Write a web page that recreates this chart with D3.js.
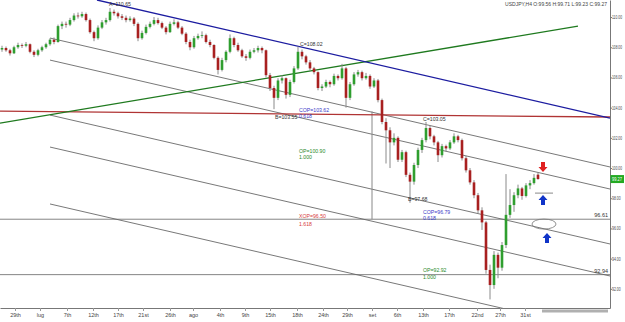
<!DOCTYPE html>
<html>
<head>
<meta charset="utf-8">
<script src="https://d3js.org/d3.v7.min.js"></script>
<style>
  body { margin: 0; background: #fff; }
  svg { display: block; font-family: "Liberation Sans", Arial, sans-serif; }
</style>
</head>
<body>
<div id="chart"></div>
<script>
// H4 candles: [open, high, low, close]
var candles = [
  [107.85,108.1,107.7,107.95],[107.95,108.05,107.7,107.8],[107.8,107.9,107.45,107.6],[107.6,108.1,107.55,108.0],
  [108.0,108.3,107.9,108.15],[108.15,108.25,107.95,108.1],[108.1,108.35,108.0,108.2],[108.2,108.25,107.6,107.7],
  [107.7,107.8,107.35,107.5],[107.5,107.9,107.4,107.8],[107.8,108.1,107.7,108.0],[108.0,108.3,107.9,108.2],
  [108.2,108.6,108.1,108.5],[108.5,108.65,108.2,108.35],[108.35,109.5,108.3,109.4],[109.4,109.7,109.2,109.55],
  [109.55,109.7,109.3,109.5],[109.5,109.95,109.4,109.8],[109.8,110.25,109.7,110.1],[110.1,110.3,109.9,110.05],
  [110.05,110.35,109.95,110.2],[110.2,110.3,109.7,109.8],[109.8,109.9,108.9,109.0],[109.0,109.1,108.4,108.6],
  [108.6,109.45,108.5,109.3],[109.3,109.8,109.2,109.65],[109.65,109.95,109.5,109.8],[109.8,110.6,109.7,110.35],
  [110.35,110.5,110.1,110.25],[110.25,110.35,109.9,110.05],[110.05,110.2,109.8,109.95],[109.95,110.1,109.65,109.8],
  [109.8,110.05,109.7,109.9],[109.9,110.0,109.4,109.55],[109.55,109.65,108.4,108.6],[108.6,109.1,108.5,108.95],
  [108.95,109.5,108.85,109.35],[109.35,109.7,109.25,109.55],[109.55,110.0,109.45,109.8],[109.8,109.95,109.5,109.6],
  [109.6,109.7,109.2,109.3],[109.3,109.4,108.85,109.0],[109.0,109.7,108.95,109.55],[109.55,109.85,109.45,109.65],
  [109.65,109.75,109.2,109.3],[109.3,109.4,108.8,108.9],[108.9,109.0,108.2,108.35],[108.35,108.5,107.8,108.0],
  [108.0,108.75,107.9,108.6],[108.6,108.9,108.5,108.75],[108.75,109.05,108.6,108.8],[108.8,108.9,108.25,108.35],
  [108.35,108.5,108.0,108.15],[108.15,108.2,107.2,107.3],[107.3,107.4,106.2,106.5],[106.5,107.3,106.4,107.15],
  [107.15,107.8,107.0,107.7],[107.7,108.85,107.6,108.6],[108.6,108.7,108.0,108.15],[108.15,108.3,107.7,107.8],
  [107.8,107.9,107.3,107.4],[107.4,107.55,107.1,107.3],[107.3,107.85,107.2,107.7],[107.7,107.95,107.6,107.8],
  [107.8,108.1,107.65,107.95],[107.95,108.05,107.6,107.8],[107.8,107.85,106.0,106.15],[106.15,106.3,105.1,105.3],
  [105.3,105.45,103.9,104.65],[104.65,105.95,104.5,105.8],[105.8,106.15,105.6,105.95],[105.95,106.0,104.6,104.85],
  [104.85,105.85,104.7,105.7],[105.7,106.75,105.6,106.6],[106.6,108.05,106.5,107.7],[107.7,107.85,107.2,107.4],
  [107.4,107.5,106.85,107.0],[107.0,107.15,106.45,106.6],[106.6,106.7,106.2,106.35],[106.35,106.4,105.15,105.3],
  [105.3,105.55,105.1,105.4],[105.4,105.85,105.3,105.7],[105.7,105.8,105.35,105.55],[105.55,106.25,105.45,106.1],
  [106.1,106.2,105.8,105.95],[105.95,106.9,105.85,106.6],[106.6,106.7,104.0,104.65],[104.65,105.7,104.5,105.55],
  [105.55,106.35,105.45,106.2],[106.2,106.5,106.05,106.35],[106.35,106.45,105.8,105.95],[105.95,106.3,105.85,106.1],
  [106.1,106.2,105.25,105.4],[105.4,105.95,105.3,105.8],[105.8,105.9,104.35,104.5],[104.5,104.6,102.9,103.05],
  [103.05,103.3,100.3,102.5],[102.5,102.7,100.0,101.7],[101.7,102.3,101.5,102.0],[102.0,102.1,100.4,100.55],
  [100.55,101.2,100.4,101.05],[101.05,101.15,99.4,99.55],[99.55,99.7,97.7,99.1],[99.1,100.35,98.9,100.2],
  [100.2,101.35,100.0,101.2],[101.2,102.0,101.0,101.85],[101.85,103.05,101.7,102.65],[102.65,102.8,101.9,102.1],
  [102.1,102.2,101.5,101.7],[101.7,101.8,100.4,100.85],[100.85,101.6,100.7,101.45],[101.45,101.55,101.1,101.3],
  [101.3,101.85,101.2,101.7],[101.7,102.3,101.6,102.1],[102.1,102.2,101.7,101.85],[101.85,101.95,100.5,100.65],
  [100.65,100.8,99.7,99.85],[99.85,100.0,98.9,99.05],[99.05,99.2,98.0,98.2],[98.2,98.35,97.0,97.2],
  [97.2,97.4,95.9,96.4],[96.4,96.5,93.0,93.25],[93.25,93.6,91.3,92.25],[92.25,94.5,92.0,94.25],
  [94.25,94.4,92.7,93.4],[93.4,95.1,93.2,94.9],[94.9,99.6,94.7,96.9],[96.9,98.6,96.7,97.55],
  [97.55,98.4,97.1,98.2],[98.2,98.9,98.0,98.65],[98.65,98.75,97.9,98.15],[98.15,99.0,98.05,98.85],
  [98.85,99.2,98.6,99.0],[99.0,99.6,98.9,99.35],[99.56,99.71,99.23,99.27]
];

var priceTicks = [92, 94, 96, 98, 100, 102, 104, 106, 108, 110];
var lastPrice = 99.27;
var title = "USDJPY,H4  O:99.56 H:99.71 L:99.23 C:99.27";

var dateLabels = ["29th", "lug", "7th", "12th", "17th", "21st", "26th", "ago", "4th", "9th", "15th",
                  "18th", "24th", "29th", "set", "6th", "13th", "17th", "22nd", "27th", "31st"];
var dateIdx = [3.25, 9.5, 16.25, 22.75, 29, 35.25, 42, 47.75, 54.5, 60.75, 67,
               73.75, 80.25, 86.25, 92.5, 98.75, 105.25, 111.75, 118.75, 124.5, 130.75];

// trend lines as [candle index, price] pairs
var blueLine = [[23.75, 111.13], [152, 103.31]];
var greenLine = [[-0.5, 102.98], [144, 109.40]];
var redLine = [[-0.5, 103.77], [152, 103.38]];
var channelLines = [
  [[12, 108.61], [152, 100.07]],
  [[12, 107.15], [152, 98.61]],
  [[12, 103.51], [152, 94.97]],
  [[12, 101.39], [152, 92.85]],
  [[12, 97.62], [152, 89.07]]
];
var levels = [96.61, 92.94];
var vLine = [[92.5, 103.75], [92.5, 96.61]];
var shortLine = [[133.25, 98.34], [137.75, 98.34]];

// pattern labels: [index, price, text, kind]
var notes = [
  [26.75, 110.73, "A=110.65", "pt"],
  [74.5, 108.08, "C=108.02", "pt"],
  [68.25, 103.25, "B=103.55", "pt"],
  [74.25, 103.71, "COP=103.62", "cop"],
  [74.25, 103.31, "0.618", "cop"],
  [74.25, 100.99, "OP=100.90", "op"],
  [74.25, 100.60, "1.000", "op"],
  [74.25, 96.70, "XOP=96.50", "xop"],
  [74.25, 96.16, "1.618", "xop"],
  [105.25, 103.11, "C=103.05", "pt"],
  [101.5, 97.81, "B=97.68", "pt"],
  [105.25, 96.95, "COP=96.79", "cop"],
  [105.25, 96.53, "0.618", "cop"],
  [105.25, 93.10, "OP=92.92", "op"],
  [105.25, 92.68, "1.000", "op"]
];
var noteColor = { pt: "#333", cop: "#3a3ac8", op: "#2a8a2a", xop: "#d84040" };

// arrows: [index, tip price, direction]
var arrows = [[135.25, 99.74, "down"], [135.25, 98.21, "up"], [136.25, 95.70, "up"]];
var ellipseAt = [135.5, 96.29];

var width = 625, height = 322;
var plotW = 610, plotH = 308;

var svg = d3.select("#chart")
  .append("svg")
  .attr("width", width)
  .attr("height", height);

var x = d3.scaleLinear().domain([-0.5, 152]).range([0, plotW]);
var y = d3.scaleLinear().domain([90.73, 111.13]).range([plotH, 0]);

svg.append("clipPath").attr("id", "clip")
  .append("rect").attr("width", plotW).attr("height", plotH);

var plot = svg.append("g").attr("clip-path", "url(#clip)");
var line = d3.line().x(function (d) { return x(d[0]); }).y(function (d) { return y(d[1]); });

// channel and level lines
plot.selectAll(".chan").data(channelLines).enter().append("path")
  .attr("d", line).attr("fill", "none").attr("stroke", "#555").attr("stroke-width", 0.8);

plot.selectAll(".lvl").data(levels).enter().append("line")
  .attr("x1", 0).attr("x2", plotW)
  .attr("y1", function (d) { return y(d); }).attr("y2", function (d) { return y(d); })
  .attr("stroke", "#666").attr("stroke-width", 0.8);

plot.append("path").attr("d", line(vLine)).attr("stroke", "#888").attr("stroke-width", 1);
plot.append("path").attr("d", line(shortLine)).attr("stroke", "#888").attr("stroke-width", 1);

plot.append("path").attr("d", line(redLine)).attr("stroke", "#b03434").attr("stroke-width", 1.3);
plot.append("path").attr("d", line(greenLine)).attr("stroke", "#1f7a1f").attr("stroke-width", 1.3);
plot.append("path").attr("d", line(blueLine)).attr("stroke", "#1c1ca0").attr("stroke-width", 1.3);

// candles
var cg = plot.append("g").selectAll("g").data(candles).enter().append("g");
cg.append("line")
  .attr("x1", function (d, i) { return x(i); }).attr("x2", function (d, i) { return x(i); })
  .attr("y1", function (d) { return y(d[1]); }).attr("y2", function (d) { return y(d[2]); })
  .attr("stroke", "#8a8a8a").attr("stroke-width", 1);
cg.append("rect")
  .attr("x", function (d, i) { return x(i) - 1.3; })
  .attr("width", 2.6)
  .attr("y", function (d) { return y(Math.max(d[0], d[3])); })
  .attr("height", function (d) { return Math.max(0.8, Math.abs(y(d[0]) - y(d[3]))); })
  .attr("fill", function (d) { return d[3] >= d[0] ? "#2f9e2f" : "#a82020"; });

// annotations
plot.selectAll(".note").data(notes).enter().append("text")
  .attr("x", function (d) { return x(d[0]); })
  .attr("y", function (d) { return y(d[1]); })
  .attr("font-size", "5.2px")
  .attr("fill", function (d) { return noteColor[d[3]]; })
  .text(function (d) { return d[2]; });

plot.selectAll(".lvltxt").data(levels).enter().append("text")
  .attr("x", plotW - 2)
  .attr("y", function (d) { return y(d) - 2; })
  .attr("text-anchor", "end")
  .attr("font-size", "5.5px")
  .attr("fill", "#333")
  .text(function (d) { return d.toFixed(2); });

plot.append("ellipse")
  .attr("cx", x(ellipseAt[0])).attr("cy", y(ellipseAt[1]))
  .attr("rx", 12).attr("ry", 5)
  .attr("fill", "none").attr("stroke", "#777").attr("stroke-width", 0.8);

plot.selectAll(".arrow").data(arrows).enter().append("path")
  .attr("transform", function (d) {
    var s = d[2] == "up" ? 1 : -1;
    return "translate(" + x(d[0]) + "," + y(d[1]) + ") scale(1," + s + ")";
  })
  .attr("d", "M0,0 L4.5,5 L2,5 L2,10 L-2,10 L-2,5 L-4.5,5 Z")
  .attr("fill", function (d) { return d[2] == "up" ? "#1034c8" : "#e02020"; });

// right price axis (labels squeezed so they fit the narrow strip)
var yAxis = svg.append("g")
  .attr("transform", "translate(" + plotW + ",0)")
  .call(d3.axisRight(y).tickValues(priceTicks).tickFormat(d3.format(".2f")).tickSize(2).tickSizeOuter(0));
yAxis.select(".domain").attr("stroke", "#777");
yAxis.selectAll(".tick line").attr("stroke", "#777");
yAxis.selectAll("text").attr("font-size", "4.6px").attr("fill", "#444").attr("x", 2)
  .attr("textLength", function (d) { return d >= 100 ? 10 : 8.6; })
  .attr("lengthAdjust", "spacingAndGlyphs");

// bottom time axis
var xAxis = svg.append("g")
  .attr("transform", "translate(0," + plotH + ")")
  .call(d3.axisBottom(x).tickValues(dateIdx).tickFormat(function (d, i) { return dateLabels[i]; }).tickSize(3).tickSizeOuter(0));
xAxis.select(".domain").attr("stroke", "#777");
xAxis.selectAll(".tick line").attr("stroke", "#999");
xAxis.selectAll("text").attr("font-size", "5.5px").attr("fill", "#444").attr("y", 5);

svg.append("rect").attr("x", x(135)).attr("y", plotH + 1.5).attr("width", plotW - x(135) - 2).attr("height", 3)
  .attr("fill", "#b0b0b0");

// last price box
svg.append("rect")
  .attr("x", plotW + 0.5).attr("y", y(lastPrice) - 4)
  .attr("width", 13.5).attr("height", 8)
  .attr("fill", "#22aa22");
svg.append("text")
  .attr("x", plotW + 2).attr("y", y(lastPrice) + 2)
  .attr("font-size", "4.6px").attr("fill", "#fff")
  .attr("textLength", 10).attr("lengthAdjust", "spacingAndGlyphs")
  .text(lastPrice.toFixed(2));

// title
svg.append("text")
  .attr("x", plotW - 3).attr("y", 6)
  .attr("text-anchor", "end")
  .attr("font-size", "5px")
  .attr("fill", "#444")
  .text(title);
</script>
</body>
</html>
